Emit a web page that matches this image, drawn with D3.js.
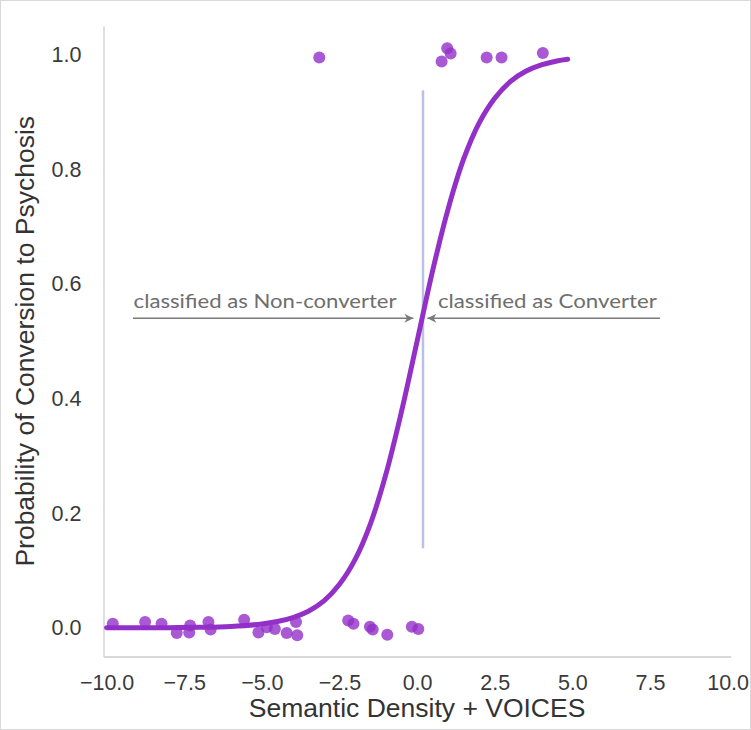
<!DOCTYPE html>
<html>
<head>
<meta charset="utf-8">
<script src="https://cdn.jsdelivr.net/npm/d3@7"></script>
<style>
  html, body { margin: 0; padding: 0; background: #fff; }
  svg { display: block; }
</style>
</head>
<body>
<div id="chart"></div>
<script>
// ---------- data ----------
const xTicks = [-10, -7.5, -5, -2.5, 0, 2.5, 5, 7.5, 10];
const yTicks = [0, 0.2, 0.4, 0.6, 0.8, 1.0];

// observed subjects: x = score, y = outcome (jittered)
const pointsX = [-9.80, -8.76, -8.23, -7.74, -7.31, -7.34, -6.72, -6.65, -5.57, -5.11,
                 -4.84, -4.58, -4.20, -3.90, -3.86, -2.22, -2.05, -1.52, -1.43, -0.96,
                 -0.17, 0.04,
                 -3.15, 0.79, 0.97, 1.08, 2.24, 2.72, 4.05];
const pointsY = [0.007, 0.010, 0.007, -0.009, 0.004, -0.008, 0.010, -0.003, 0.014, -0.008,
                 0.001, -0.002, -0.009, 0.010, -0.013, 0.013, 0.007, 0.002, -0.003, -0.012,
                 0.002, -0.002,
                 0.995, 0.988, 1.011, 1.002, 0.995, 0.995, 1.003];

// fitted logistic curve
const curveX = [-10, -9, -8, -7, -6, -5, -4.5, -4, -3.5, -3, -2.5, -2, -1.5, -1, -0.5,
                0, 0.5, 1, 1.5, 2, 2.5, 3, 3.5, 4, 4.5, 4.85];
const curveY = [0.00005, 0.00012, 0.00034, 0.00091, 0.0025, 0.0067, 0.011, 0.018, 0.029,
                0.047, 0.076, 0.119, 0.182, 0.269, 0.378, 0.5, 0.623, 0.731, 0.818, 0.881,
                0.924, 0.953, 0.971, 0.982, 0.989, 0.992];

// decision boundary
const boundaryX = [0.19, 0.19];
const boundaryY = [0.139, 0.938];

const annotations = ["classified as Non-converter", "classified as Converter"];
const xLabel = "Semantic Density + VOICES";
const yLabel = "Probability of Conversion to Psychosis";

// ---------- layout ----------
const W = 751, H = 730;
const x = d3.scaleLinear().domain([-10.1, 10.1]).range([103.5, 730.7]);
const y = d3.scaleLinear().domain([-0.05, 1.05]).range([656.5, 26]);

const svg = d3.select("#chart").append("svg")
  .attr("width", W).attr("height", H);

svg.append("rect").attr("x", 0.5).attr("y", 0.5).attr("width", W - 1).attr("height", H - 1)
  .attr("fill", "#fff").attr("stroke", "#d9d9d9");

const defs = svg.append("defs");
defs.append("marker").attr("id", "arrow")
  .attr("viewBox", "0 0 10 10").attr("refX", 10).attr("refY", 5)
  .attr("markerWidth", 14).attr("markerHeight", 9).attr("markerUnits", "userSpaceOnUse")
  .attr("orient", "auto")
  .append("path").attr("d", "M0,0 L10,5 L0,10 L3,5 Z").attr("fill", "#7a7a7a");

// axes
const tickFont = "'Liberation Sans', Arial, sans-serif";
const xAxis = svg.append("g").attr("transform", `translate(0,${y.range()[0]})`)
  .call(d3.axisBottom(x).tickValues(xTicks).tickSize(0).tickPadding(18)
        .tickFormat(d => d3.format(".1f")(d).replace("-", "\u2212")));
const yAxis = svg.append("g").attr("transform", `translate(${x.range()[0]},0)`)
  .call(d3.axisLeft(y).tickValues(yTicks).tickSize(0).tickPadding(22)
        .tickFormat(d3.format(".1f")));
[xAxis, yAxis].forEach(g => {
  g.select(".domain").attr("stroke", "#cccccc").attr("stroke-width", 1.3);
  g.selectAll("text").attr("font-family", tickFont).attr("font-size", 21.5).attr("fill", "#3a3a3a");
});

// axis labels
svg.append("text").attr("x", (x.range()[0] + x.range()[1]) / 2).attr("y", 717)
  .attr("text-anchor", "middle").attr("font-family", tickFont).attr("font-size", 26.5)
  .attr("fill", "#333").text(xLabel);
svg.append("text").attr("transform", `translate(34,${(y.range()[0] + y.range()[1]) / 2}) rotate(-90)`)
  .attr("text-anchor", "middle").attr("font-family", tickFont).attr("font-size", 26.5)
  .attr("fill", "#333").text(yLabel);

// decision boundary
svg.append("line")
  .attr("x1", x(boundaryX[0])).attr("x2", x(boundaryX[1]))
  .attr("y1", y(boundaryY[0])).attr("y2", y(boundaryY[1]))
  .attr("stroke", "#bcc0e2").attr("stroke-width", 2.5);

// logistic curve
const curve = curveX.map((d, i) => [d, curveY[i]]);
svg.append("path").datum(curve)
  .attr("d", d3.line().x(d => x(d[0])).y(d => y(d[1])).curve(d3.curveCatmullRom))
  .attr("fill", "none").attr("stroke", "#9230c8").attr("stroke-width", 5)
  .attr("stroke-linecap", "round");

// points
svg.append("g").selectAll("circle").data(pointsX.map((d, i) => [d, pointsY[i]]))
  .join("circle")
  .attr("cx", d => x(d[0])).attr("cy", d => y(d[1])).attr("r", 6)
  .attr("fill", "#9230c8").attr("fill-opacity", 0.8);

// annotations
const annFont = "Lato, 'Open Sans', sans-serif";
const arrowY = y(0.54), textY = y(0.558);
svg.append("line").attr("x1", x(-9.15)).attr("x2", x(-0.12))
  .attr("y1", arrowY).attr("y2", arrowY)
  .attr("stroke", "#7a7a7a").attr("stroke-width", 1.5).attr("marker-end", "url(#arrow)");
svg.append("line").attr("x1", x(7.82)).attr("x2", x(0.33))
  .attr("y1", arrowY).attr("y2", arrowY)
  .attr("stroke", "#7a7a7a").attr("stroke-width", 1.5).attr("marker-end", "url(#arrow)");
svg.append("text").attr("x", x(-9.13)).attr("y", textY)
  .attr("font-family", annFont).attr("font-size", 19.5).attr("fill", "#6e6e6e")
  .attr("textLength", 263).attr("lengthAdjust", "spacingAndGlyphs")
  .text(annotations[0]);
svg.append("text").attr("x", x(0.67)).attr("y", textY)
  .attr("font-family", annFont).attr("font-size", 19.5).attr("fill", "#6e6e6e")
  .attr("textLength", 219).attr("lengthAdjust", "spacingAndGlyphs")
  .text(annotations[1]);
</script>
</body>
</html>
